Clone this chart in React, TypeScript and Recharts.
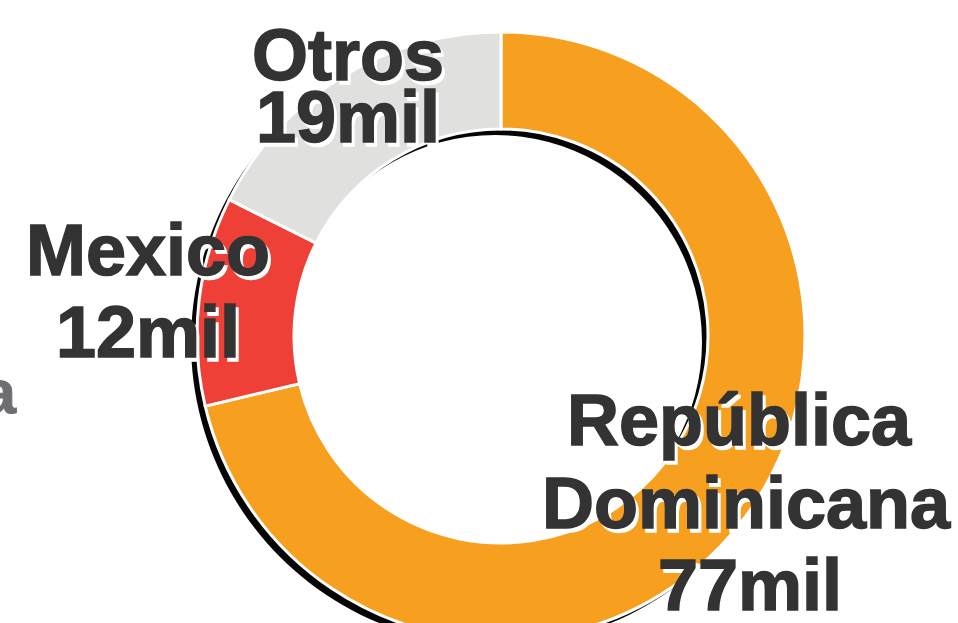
import { PieChart, Pie, Cell } from "recharts";

const regions = ["República Dominicana", "Mexico", "Otros"];
const values = [77, 12, 19];
const colors = ["#F79F1F", "#EF4037", "#E0E0DF"];

// label lines for each region (text only)
const labelLines = [
  ["República", "Dominicana", "77mil"],
  ["Mexico", "12mil"],
  ["Otros", "19mil"],
];

// where each line of each label sits: [x, baseline y]
const labelPos = [
  [[739, 445], [746, 528], [750, 610]],
  [[148, 275], [148, 357]],
  [[348, 80], [348, 142]],
];

const data = regions.map((name, i) => ({ name, value: values[i] }));
const shadowData = [{ name: "shadow", value: 1 }];

const W = 958;
const H = 623;
const CX = 501;
const CY = 336;
const INNER = 207;
const OUTER = 304;

const font = "'Liberation Sans', Arial, sans-serif";

function Labels() {
  return (
    <svg width={W} height={H} style={{ position: "absolute", left: 0, top: 0, pointerEvents: "none" }}>
      {labelLines.map((lines, i) =>
        lines.map((t, j) => {
          const [x, y] = labelPos[i][j];
          return (
            <g key={`${i}-${j}`}>
              <text x={x + 3} y={y + 4} textAnchor="middle" fontFamily={font} fontWeight="bold" fontSize={72} fill="#ffffff" stroke="#ffffff" strokeWidth={1.5}>
                {t}
              </text>
              <text x={x} y={y} textAnchor="middle" fontFamily={font} fontWeight="bold" fontSize={72} fill="#333333" stroke="#333333" strokeWidth={1.5}>
                {t}
              </text>
            </g>
          );
        })
      )}
      {/* cut-off label on the left edge */}
      <text x={16} y={413} textAnchor="end" fontFamily={font} fontWeight="bold" fontSize={62} fill="#6D6E71" stroke="#6D6E71" strokeWidth={1}>
        a
      </text>
    </svg>
  );
}

export default function App() {
  return (
    <div style={{ position: "absolute", left: 0, top: 0, width: W, height: H, background: "#fff" }}>
      <PieChart width={W} height={H} margin={{ top: 0, right: 0, bottom: 0, left: 0 }}>
        <Pie
          data={shadowData}
          dataKey="value"
          cx={CX - 6}
          cy={CY + 6}
          innerRadius={INNER}
          outerRadius={OUTER}
          startAngle={90}
          endAngle={-270}
          stroke="none"
          fill="#050505"
          isAnimationActive={false}
        />
        <Pie
          data={data}
          dataKey="value"
          cx={CX}
          cy={CY}
          innerRadius={INNER}
          outerRadius={OUTER}
          startAngle={90}
          endAngle={-270}
          stroke="#ffffff"
          strokeWidth={3}
          isAnimationActive={false}
        >
          {data.map((d, i) => (
            <Cell key={d.name} fill={colors[i]} />
          ))}
        </Pie>
      </PieChart>
      <Labels />
    </div>
  );
}
